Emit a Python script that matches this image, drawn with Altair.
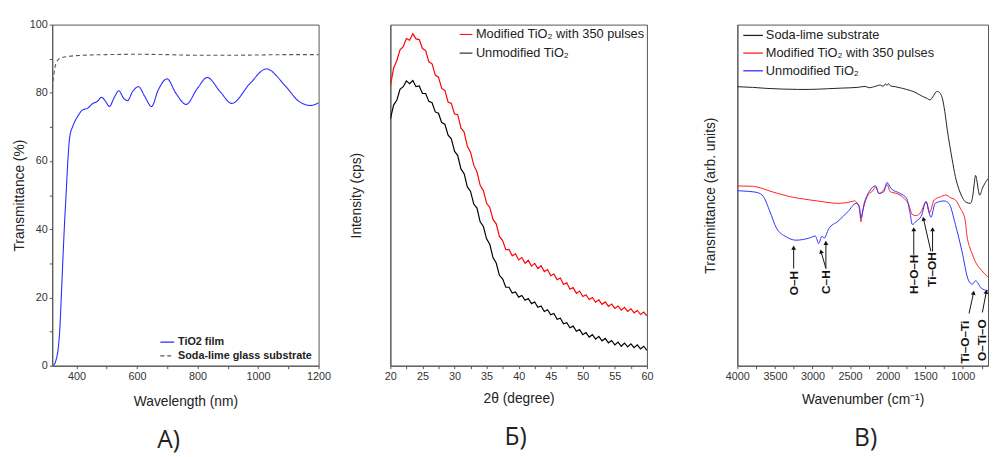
import altair as alt
import pandas as pd

FONT = "Liberation Sans"
FRAME = "#555555"

# ---------------- Panel A: UV-Vis transmittance ----------------
a_film_nm = [323, 332, 339.5, 345, 350, 356, 361, 364.5, 372, 377.5, 388, 404, 420.6, 437, 453, 469, 483, 496,
             509, 523.6, 540, 556, 569, 585, 605, 626, 648, 670, 699, 729, 762, 799.6, 832, 875, 913, 973, 1027,
             1092, 1135, 1173, 1200]
a_film_t = [0, 1.5, 4.9, 10.7, 20.3, 32.8, 42.4, 48.1, 60.6, 66.9, 70.2, 73.1, 75.0, 75.5, 76.8, 77.5, 78.7, 77.5,
            76.0, 78.4, 80.6, 78.4, 77.7, 80.3, 81.8, 78.9, 76.0, 80.8, 84.1, 79.8, 76.6, 81.3, 84.5, 80.3, 76.9, 82.7,
            87.0, 81.8, 77.5, 76.3, 77.1]
a_sub_nm = [320, 325, 332, 345, 377, 420, 500, 600, 700, 800, 900, 1000, 1100, 1200]
a_sub_t = [81.3, 85.1, 88.5, 90.1, 90.7, 91.0, 91.2, 91.3, 91.2, 91.0, 91.0, 91.1, 91.2, 91.2]
a_series = ["TiO2 film", "Soda-lime glass substrate"]

# ---------------- Panel B: XRD ----------------
b_deg = [20 + 0.5 * i for i in range(81)]
b_mod = [82.0, 87.2, 89.4, 92.6, 93.5, 95.9, 95.4, 97.3, 95.8, 95.6, 93.0, 92.4, 89.1, 88.5, 85.2, 84.6, 81.3,
         80.7, 77.3, 76.9, 73.8, 73.6, 69.7, 68.5, 64.3, 62.6, 58.8, 56.9, 52.9, 51.3, 47.6, 46.4, 42.9, 41.6,
         37.9, 36.7, 34.0, 34.1, 32.2, 32.8, 31.0, 31.7, 30.0, 30.9, 29.2, 30.0, 28.5, 29.3, 27.6, 28.2, 26.4,
         26.9, 25.2, 25.7, 23.8, 24.3, 22.4, 22.9, 21.2, 21.9, 20.3, 20.8, 19.4, 20.0, 18.6, 19.3, 18.0, 18.7,
         17.4, 18.1, 16.8, 17.5, 16.3, 17.1, 15.9, 16.7, 15.5, 16.2, 15.0, 15.7, 14.6]
b_unmod = [72.3, 76.4, 77.8, 81.0, 81.8, 83.5, 82.7, 83.6, 81.8, 82.0, 79.8, 79.8, 77.5, 77.1, 74.4, 74.0, 71.3,
           70.8, 67.6, 66.5, 62.9, 61.6, 57.7, 56.3, 52.4, 51.1, 47.4, 46.2, 42.2, 40.8, 37.2, 35.6, 31.7, 30.1,
           26.5, 25.5, 23.0, 23.0, 21.3, 21.6, 20.1, 20.6, 19.2, 19.7, 18.2, 18.7, 17.1, 17.5, 15.9, 16.4, 14.9,
           15.3, 13.6, 13.9, 12.3, 12.6, 11.1, 11.6, 10.1, 10.6, 9.1, 9.7, 8.4, 9.1, 7.8, 8.6, 7.3, 8.0, 6.7, 7.4,
           6.1, 6.9, 5.7, 6.6, 5.5, 6.4, 5.3, 6.1, 4.9, 5.7, 4.5]
b_series = ["Modified TiO\u2082 with 350 pulses", "Unmodified TiO\u2082"]

# ---------------- Panel C: FTIR ----------------
c_sub_wn = [4000, 3800, 3610, 3400, 3200, 3048, 2800, 2600, 2398, 2300, 2250, 2150, 2100, 2060, 2030, 2009, 1990,
            1960, 1900, 1800, 1749, 1650, 1532, 1470, 1437, 1400, 1360, 1338, 1300, 1273, 1240, 1208, 1143, 1100,
            1056, 1010, 970, 930, 900, 870, 850, 831, 815, 790, 775, 740, 700, 667]
c_sub_v = [81.8, 81.6, 81.3, 81.1, 81.0, 81.0, 81.2, 81.4, 81.6, 81.9, 81.5, 82.0, 82.3, 81.9, 82.6, 82.2, 82.7,
           82.0, 81.8, 81.3, 81.0, 80.3, 78.9, 78.3, 77.9, 78.8, 80.2, 80.4, 79.8, 78.4, 74.5, 69.3, 60.6, 55.5,
           52.0, 49.5, 48.1, 47.7, 47.6, 49.5, 53.0, 55.8, 54.5, 51.0, 50.0, 52.0, 53.7, 54.8]
c_mod_wn = [4000, 3800, 3740, 3567, 3308, 3100, 2874, 2658, 2500, 2442, 2390, 2370, 2355, 2340, 2312, 2247, 2200,
            2160, 2117, 2074, 2030, 2009, 1965, 1900, 1835, 1780, 1727, 1671, 1619, 1554, 1489, 1446, 1381, 1300,
            1229, 1160, 1099, 1035, 970, 948, 905, 870, 840, 753, 667]
c_mod_v = [52.7, 52.6, 52.4, 51.2, 49.6, 48.8, 48.1, 47.6, 48.0, 48.3, 47.1, 45.0, 42.2, 44.5, 47.1, 50.5, 51.2,
           52.4, 50.5, 51.0, 52.4, 53.1, 51.0, 50.6, 50.0, 49.0, 47.6, 44.3, 44.0, 45.2, 48.1, 44.8, 48.6, 49.5,
           50.0, 49.2, 48.6, 46.2, 42.8, 38.5, 34.5, 32.5, 30.8, 28.0, 26.0]
c_unmod_wn = [4000, 3850, 3740, 3654, 3567, 3481, 3351, 3221, 3048, 2961, 2918, 2874, 2844, 2788, 2658, 2528, 2420,
              2377, 2355, 2312, 2247, 2160, 2117, 2052, 2009, 1957, 1835, 1749, 1706, 1671, 1619, 1554, 1489, 1424,
              1368, 1251, 1186, 1099, 1013, 926, 874, 831, 753, 667]
c_unmod_v = [51.3, 51.1, 50.8, 49.6, 45.2, 40.4, 37.8, 36.8, 37.4, 38.0, 35.8, 38.0, 37.4, 40.0, 42.4, 45.2, 47.6,
             46.7, 43.3, 47.6, 51.0, 52.7, 50.5, 51.0, 53.7, 52.0, 50.5, 49.1, 45.2, 41.4, 42.4, 43.8, 48.1, 43.5,
             47.6, 48.3, 47.6, 41.4, 33.7, 25.1, 23.9, 24.9, 22.7, 22.0]
c_series = ["Soda-lime substrate", "Modified TiO\u2082 with 350 pulses", "Unmodified TiO\u2082"]

ann_label = ["O\u2013H", "C\u2013H", "H\u2013O\u2013H", "Ti\u2013OH", "Ti\u2013O\u2013Ti", "O\u2013Ti\u2013O"]
ann_wn = [3251, 2822, 1653, 1403, 970, 740]
ann_v = [24.2, 24.5, 26.8, 28.2, 6.9, 7.5]
arr_wn = [3251, 2822, 2822, 1653, 1403, 1425, 918, 740]
arr_v = [28.5, 28.5, 28.5, 32.5, 33.5, 33.5, 15.3, 15.6]
arr_wn2 = [3251, 2822, 2887, 1653, 1403, 1524, 857, 688]
arr_v2 = [34.6, 36.0, 33.5, 40.0, 40.0, 43.1, 21.4, 21.7]
arr_angle = [0, 0, 344, 0, 0, 347, 12, 11]

panel_labels = ["A)", "\u0411)", "\u0412)"]

H = 347


def bottom_title(text, dx):
    return alt.TitleParams(text, orient="bottom", anchor="middle", frame="group", fontSize=25,
                           font="Open Sans", fontWeight="normal", color="#222222", offset=21, dx=dx)


# ---- Chart A ----
df_a = pd.DataFrame({
    "nm": a_film_nm + a_sub_nm,
    "T": a_film_t + a_sub_t,
    "series": [a_series[0]] * len(a_film_nm) + [a_series[1]] * len(a_sub_nm),
})
leg_a = alt.Legend(title=None, orient="none", legendX=109, legendY=315, symbolType="stroke", symbolSize=196,
                   symbolStrokeWidth=1.2, labelFont=FONT, labelFontSize=11, labelFontWeight="bold",
                   labelColor="#222222", labelOffset=3, rowPadding=1, padding=0, labelLimit=400)
chart_a = alt.Chart(df_a).mark_line(interpolate="monotone", strokeWidth=1.1, clip=True).encode(
    x=alt.X("nm:Q", scale=alt.Scale(domain=[320, 1200], nice=False, zero=False),
            axis=alt.Axis(title="Wavelength (nm)", values=list(range(400, 1201, 100)), format="d",
                          labelExpr="datum.value % 200 == 0 ? datum.label : ''", titlePadding=13)),
    y=alt.Y("T:Q", scale=alt.Scale(domain=[0, 100], nice=False),
            axis=alt.Axis(title="Transmittance (%)", values=list(range(0, 101, 10)),
                          labelExpr="datum.value % 20 == 0 ? datum.label : ''", titlePadding=3)),
    color=alt.Color("series:N", scale=alt.Scale(domain=a_series, range=["#2a2aff", "#555555"]), legend=leg_a),
    strokeDash=alt.StrokeDash("series:N", scale=alt.Scale(domain=a_series, range=[[1, 0], [4, 3]]), legend=leg_a),
).properties(width=271, height=H, title=bottom_title(panel_labels[0], -17))

# ---- Chart B ----
df_b = pd.DataFrame({
    "deg": b_deg + b_deg,
    "I": b_mod + b_unmod,
    "series": [b_series[0]] * len(b_deg) + [b_series[1]] * len(b_deg),
})
leg_b = alt.Legend(title=None, orient="none", legendX=70, legendY=3, symbolType="stroke", symbolSize=169,
                   symbolStrokeWidth=1, labelFont=FONT, labelFontSize=13, labelColor="#222222", labelOffset=3,
                   rowPadding=5, padding=0, labelLimit=400)
chart_b = alt.Chart(df_b).mark_line(strokeWidth=1.2, clip=True).encode(
    x=alt.X("deg:Q", scale=alt.Scale(domain=[20, 60], nice=False, zero=False),
            axis=alt.Axis(title="2\u03b8 (degree)", values=[20 + 2.5 * i for i in range(17)],
                          labelExpr="datum.value % 5 == 0 ? datum.label : ''", titlePadding=10)),
    y=alt.Y("I:Q", scale=alt.Scale(domain=[0, 100], nice=False),
            axis=alt.Axis(title="Intensity (cps)", labels=False, ticks=False, titlePadding=27)),
    color=alt.Color("series:N", scale=alt.Scale(domain=b_series, range=["#ff0000", "#000000"]), legend=leg_b),
).properties(width=261, height=H, title=bottom_title(panel_labels[1], -3))

# ---- spacer ----
spacer = alt.Chart(pd.DataFrame({"s": [0]})).mark_point(opacity=0).properties(
    width=14, height=H, view=alt.ViewBackground(strokeOpacity=0))

# ---- Chart C ----
df_c = pd.DataFrame({
    "wn": c_sub_wn + c_mod_wn + c_unmod_wn,
    "v": c_sub_v + c_mod_v + c_unmod_v,
    "series": [c_series[0]] * len(c_sub_wn) + [c_series[1]] * len(c_mod_wn) + [c_series[2]] * len(c_unmod_wn),
})
x_scale_c = alt.Scale(domain=[665, 4000], reverse=True, nice=False, zero=False)
x_axis_c = alt.Axis(title="Wavenumber (cm\u207b\u00b9)", values=list(range(750, 4001, 250)), format="d",
                    labelExpr="datum.value % 500 == 0 ? datum.label : ''", titlePadding=11)
y_scale_c = alt.Scale(domain=[0, 100], nice=False)
y_axis_c = alt.Axis(title="Transmittance (arb. units)", labels=False, ticks=False, titlePadding=20)


def xc(field):
    return alt.X(field, type="quantitative", scale=x_scale_c, axis=x_axis_c)


def yc(field):
    return alt.Y(field, type="quantitative", scale=y_scale_c, axis=y_axis_c)


leg_c = alt.Legend(title=None, orient="none", legendX=5, legendY=0, symbolType="stroke", symbolSize=400,
                   symbolStrokeWidth=1.3, labelFont=FONT, labelFontSize=13, labelColor="#222222", labelOffset=2,
                   rowPadding=-3, padding=0, labelLimit=400)
lines_c = alt.Chart(df_c).mark_line(strokeWidth=1, interpolate="monotone", clip=True).encode(
    x=xc("wn"), y=yc("v"),
    color=alt.Color("series:N", scale=alt.Scale(domain=c_series, range=["#222222", "#ff2020", "#3030ff"]),
                    legend=leg_c),
)
df_arr = pd.DataFrame({"wn": arr_wn, "v": arr_v, "wn2": arr_wn2, "v2": arr_v2, "ang": arr_angle})
rules_c = alt.Chart(df_arr).mark_rule(color="#111111", strokeWidth=1).encode(
    x=xc("wn"), y=yc("v"), x2="wn2:Q", y2="v2:Q")
heads_c = alt.Chart(df_arr).mark_point(shape="triangle-up", filled=True, size=24, color="#111111",
                                       opacity=1).encode(
    x=xc("wn2"), y=yc("v2"), angle=alt.Angle("ang:Q", scale=None))
df_ann = pd.DataFrame({"wn": ann_wn, "v": ann_v, "label": ann_label})
text_c = alt.Chart(df_ann).mark_text(angle=270, font=FONT, fontSize=12, fontWeight="bold", color="#111111",
                                     align="center", baseline="middle").encode(
    x=xc("wn"), y=yc("v"), text="label:N")
chart_c = alt.layer(lines_c, rules_c, heads_c, text_c).properties(
    width=255, height=H, title=bottom_title(panel_labels[2], 3))

chart = alt.hconcat(chart_a, chart_b, spacer, chart_c, spacing=18).resolve_scale(
    color="independent", strokeDash="independent", x="independent", y="independent"
).properties(
    padding={"left": 4, "top": 6, "right": 0, "bottom": 0}
).configure_view(stroke=FRAME, strokeWidth=1).configure_axis(
    domainColor=FRAME, tickColor=FRAME, labelColor="#333333", titleColor="#222222", labelFont=FONT,
    titleFont=FONT, labelFontSize=11, titleFontSize=14, titleFontWeight="normal", grid=False, tickSize=3,
    labelPadding=2, labelFlush=False
)

chart.save("out.html", embed_options={"renderer": "svg", "actions": False})
